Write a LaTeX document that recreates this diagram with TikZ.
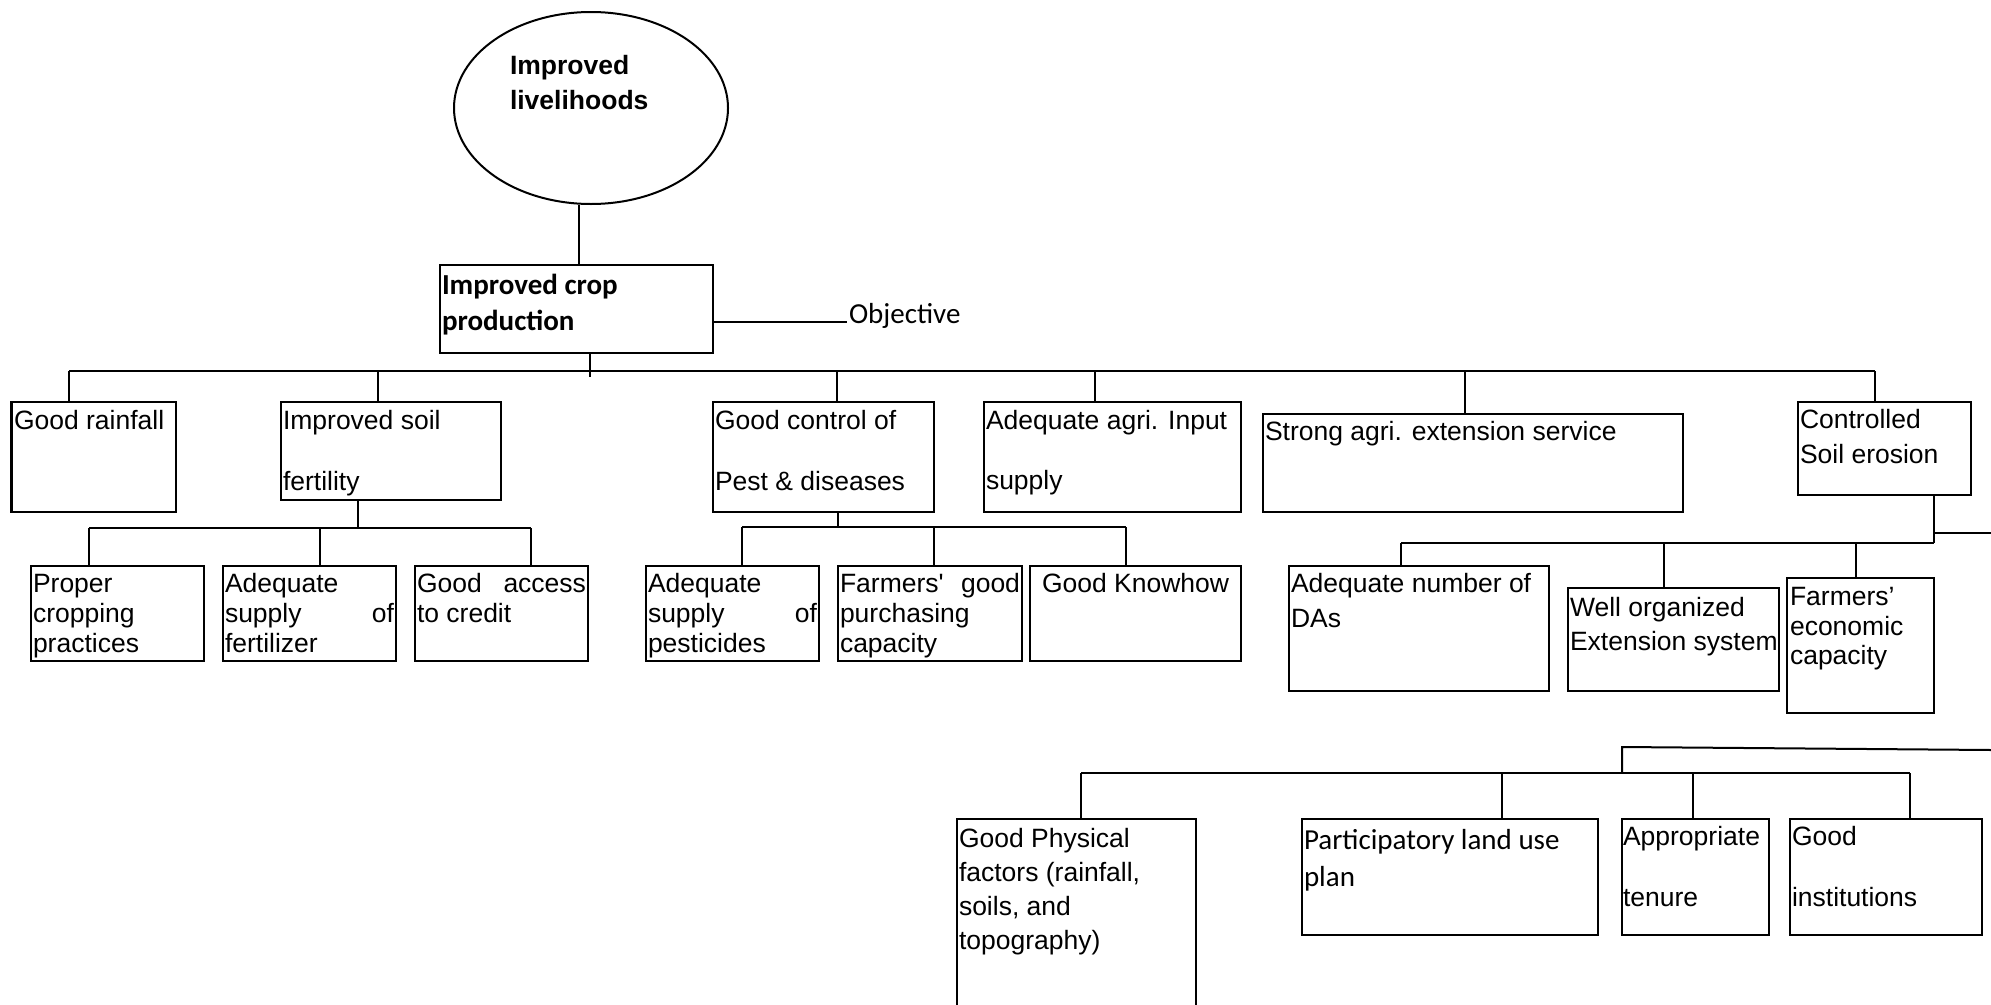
\documentclass[tikz,border=0pt]{standalone}
\usepackage{fontspec}
\setmainfont{Liberation Sans}
\newfontfamily\calfont{Carlito}
\usetikzlibrary{shapes.geometric}
\newcommand\bx[5]{\node[box, minimum width={(#4-#2)*1pt}, minimum height={(#5-#3)*1pt}] (#1) at (#2,#3) {};}
\newcommand\tx[4]{\node[txt] (#1) at (#2,#3) {#4};}
\newcommand\ctx[4]{\node[ctxt] (#1) at (#2,#3) {#4};}
\begin{document}
\begin{tikzpicture}[x=1pt,y=-1pt,
  box/.style={draw, line width=2.4pt, inner sep=0pt, outer sep=0pt, anchor=north west},
  ln/.style={line width=2pt},
  busline/.style={line width=2.6pt},
  txt/.style={inner sep=0pt, outer sep=0pt, anchor=base west, font=\fontsize{26.5}{30}\selectfont},
  ctxt/.style={txt, font=\calfont\fontsize{29}{34}\selectfont},
]
\useasboundingbox (0,0) rectangle (1991,1004);
\fill[white] (0,0) rectangle (1991,1004);

% goal ellipse
\node[draw, ellipse, line width=2pt, minimum width=274pt, minimum height=192pt, inner sep=0pt] (goal) at (591,108) {};
\node[txt, font=\bfseries\fontsize{26.5}{30}\selectfont] (g1) at (510,74) {Improved};
\node[txt, font=\bfseries\fontsize{26.5}{30}\selectfont] (g2) at (510,109) {livelihoods};

% boxes
\bx{top}{440}{265}{713}{353}
\bx{rain}{11.5}{402}{176}{512}
\bx{soil}{281}{402}{501}{500}
\bx{pest}{713}{402}{934}{512}
\bx{input}{984}{402}{1241}{512}
\bx{ext}{1263}{414}{1683}{512}
\bx{eros}{1798}{402}{1971}{495}
\bx{crop}{31}{566}{204}{661}
\bx{fert}{223}{566}{396}{661}
\bx{cred}{415}{566}{588}{661}
\bx{pestc}{646}{566}{819}{661}
\bx{purch}{838}{566}{1022}{661}
\bx{know}{1030}{566}{1241}{661}
\bx{das}{1289}{566}{1549}{691}
\bx{org}{1568}{588}{1779}{691}
\bx{econ}{1787}{578}{1934}{713}
\bx{phys}{957}{819}{1196}{1030}
\bx{plan}{1302}{819}{1598}{935}
\bx{ten}{1622}{819}{1769}{935}
\bx{inst}{1790}{819}{1982}{935}

% texts
\node[ctxt, font=\calfont\bfseries\fontsize{29}{34}\selectfont] (c1) at (442,294) {Improved crop};
\node[ctxt, font=\calfont\bfseries\fontsize{29}{34}\selectfont] (c2) at (442,330) {production};
\ctx{obj}{849}{323}{Objective}
\tx{r1}{14}{429}{Good rainfall}
\tx{s1}{283}{429}{Improved soil}
\tx{s2}{283}{490}{fertility}
\tx{p1}{715}{429}{Good control of}
\tx{p2}{715}{490}{Pest \& diseases}
\tx{i1}{986}{429}{Adequate agri. Input}
\tx{i2}{986}{489}{supply}
\tx{e1}{1265}{440}{Strong agri. extension service}
\tx{er1}{1800}{428}{Controlled}
\tx{er2}{1800}{463}{Soil erosion}
\tx{cr1}{33}{592}{Proper}
\tx{cr2}{33}{622}{cropping}
\tx{cr3}{33}{652}{practices}
\tx{f1}{225}{592}{Adequate}
\tx{f2}{225}{622}{\hbox to 169pt{supply\hfill of}}
\tx{f3}{225}{652}{fertilizer}
\tx{cd1}{417}{592}{\hbox to 169pt{Good\hfill access}}
\tx{cd2}{417}{622}{to credit}
\tx{pc1}{648}{592}{Adequate}
\tx{pc2}{648}{622}{\hbox to 169pt{supply\hfill of}}
\tx{pc3}{648}{652}{pesticides}
\tx{pu1}{840}{592}{\hbox to 180pt{Farmers\textquotesingle\hfill good}}
\tx{pu2}{840}{622}{purchasing}
\tx{pu3}{840}{652}{capacity}
\tx{k1}{1042}{592}{Good Knowhow}
\tx{d1}{1291}{592}{Adequate number of}
\tx{d2}{1291}{627}{DAs}
\tx{o1}{1570}{616}{Well organized}
\tx{o2}{1570}{650}{Extension system}
\tx{ec1}{1790}{605}{Farmers’}
\tx{ec2}{1790}{635}{economic}
\tx{ec3}{1790}{664}{capacity}
\tx{ph1}{959}{847}{Good Physical}
\tx{ph2}{959}{881}{factors (rainfall,}
\tx{ph3}{959}{915}{soils, and}
\tx{ph4}{959}{949}{topography)}
\ctx{pl1}{1304}{849}{Participatory land use}
\ctx{pl2}{1304}{886}{plan}
\tx{t1}{1623}{845}{Appropriate}
\tx{t2}{1623}{906}{tenure}
\tx{in1}{1792}{845}{Good}
\tx{in2}{1792}{906}{institutions}

% connectors
\draw[ln] (579,0 |- top.north) -- (579,0 |- goal.south);
\draw[ln] (top.east |- 0,322) -- (847,322);
\draw[ln] (590,0 |- top.south) -- (590,377);
\draw[busline] (69,371) -- (1875,371);
\foreach \x/\n in {69/rain,378/soil,837/pest,1095/input,1465/ext,1875/eros}
  \draw[ln] (\x,371) -- (\x,371 |- \n.north);
% soil subtree
\draw[ln] (358,0 |- soil.south) -- (358,528);
\draw[ln] (89,528) -- (531,528);
\foreach \x/\n in {89/crop,320/fert,531/cred}
  \draw[ln] (\x,528) -- (\x,528 |- \n.north);
% pest subtree
\draw[ln] (838,0 |- pest.south) -- (838,527);
\draw[ln] (742,527) -- (1126,527);
\foreach \x/\n in {742/pestc,934/purch,1126/know}
  \draw[ln] (\x,527) -- (\x,527 |- \n.north);
% erosion subtree
\coordinate (edgeA) at (1991,533);
\draw[ln] (1934,0 |- eros.south) -- (1934,543);
\draw[ln] (1401,543) -- (1934,543);
\draw[ln] (1934,533) -- (edgeA);
\foreach \x/\n in {1401/das,1664/org,1856/econ}
  \draw[ln] (\x,543) -- (\x,543 |- \n.north);
% bottom subtree
\coordinate (edgeB) at (1991,750);
\draw[ln] (edgeB) -- (1622,747) -- (1622,773);
\draw[ln] (1081,773) -- (1910,773);
\foreach \x/\n in {1081/phys,1502/plan,1693/ten,1910/inst}
  \draw[ln] (\x,773) -- (\x,773 |- \n.north);
\end{tikzpicture}
\end{document}
